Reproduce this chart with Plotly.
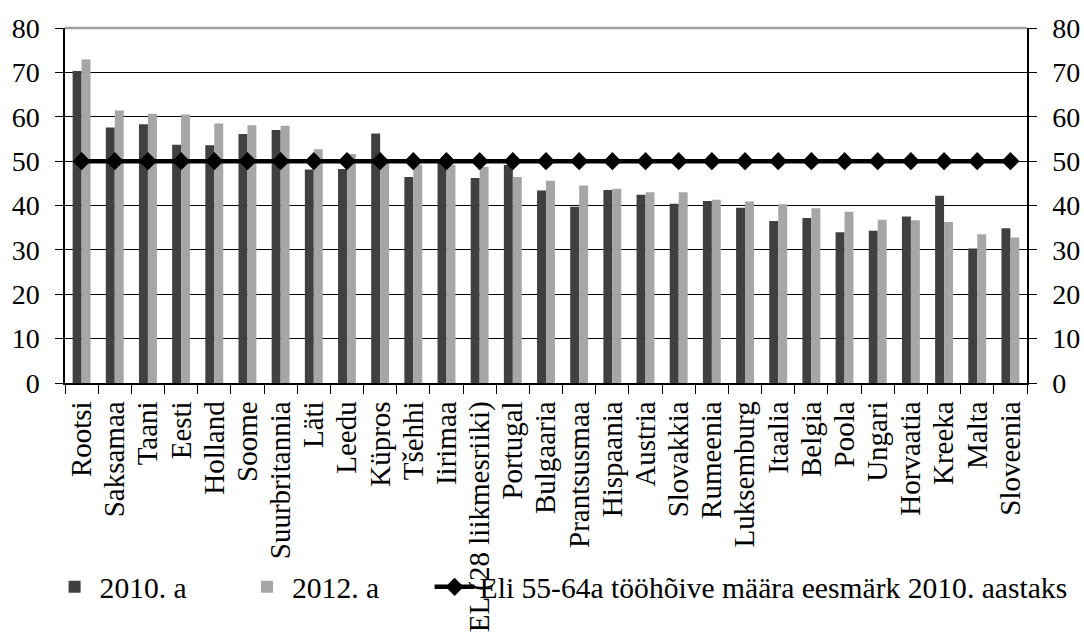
import plotly.graph_objects as go

# Employment rate of older workers (55-64) by EU country, %
countries = [
    "Rootsi", "Saksamaa", "Taani", "Eesti", "Holland", "Soome", "Suurbritannia",
    "Läti", "Leedu", "Küpros", "Tšehhi", "Iirimaa", "EL (28 liikmesriiki)",
    "Portugal", "Bulgaaria", "Prantsusmaa", "Hispaania", "Austria", "Slovakkia",
    "Rumeenia", "Luksemburg", "Itaalia", "Belgia", "Poola", "Ungari",
    "Horvaatia", "Kreeka", "Malta", "Sloveenia",
]
rate_2010 = [
    70.3, 57.6, 58.3, 53.7, 53.6, 56.1, 57.0,
    48.1, 48.2, 56.2, 46.4, 49.6, 46.2,
    49.1, 43.4, 39.7, 43.5, 42.4, 40.4,
    41.0, 39.5, 36.5, 37.2, 34.0, 34.3,
    37.5, 42.2, 30.3, 34.9,
]
rate_2012 = [
    72.9, 61.4, 60.7, 60.5, 58.5, 58.1, 58.0,
    52.7, 51.6, 49.6, 49.2, 49.2, 48.7,
    46.4, 45.6, 44.5, 43.8, 43.0, 43.0,
    41.3, 40.9, 40.3, 39.4, 38.6, 36.8,
    36.7, 36.3, 33.5, 32.8,
]
target_2010 = [
    50, 50, 50, 50, 50, 50, 50,
    50, 50, 50, 50, 50, 50,
    50, 50, 50, 50, 50, 50,
    50, 50, 50, 50, 50, 50,
    50, 50, 50, 50,
]
y_ticks = [0, 10, 20, 30, 40, 50, 60, 70, 80]

FONT = "Liberation Serif, Times New Roman, serif"

fig = go.Figure()
fig.add_trace(go.Bar(
    x=countries, y=rate_2010, name="2010. a", legend="legend",
    marker=dict(color="#404040", line=dict(width=0)),
))
fig.add_trace(go.Bar(
    x=countries, y=rate_2012, name="2012. a", legend="legend2",
    marker=dict(color="#a6a6a6", line=dict(width=0)),
))
fig.add_trace(go.Scatter(
    x=countries, y=target_2010, yaxis="y2", legend="legend3",
    name="Eli 55-64a tööhõive määra eesmärk 2010. aastaks",
    mode="lines+markers",
    line=dict(color="black", width=4.5),
    marker=dict(symbol="diamond", size=14, color="black"),
))

axis_font = dict(family=FONT, size=28, color="black")
legend_font = dict(family=FONT, size=29.6, color="black")


def legend_box(x):
    return dict(
        orientation="h", x=x, xanchor="left", y=-0.575, yanchor="middle",
        font=legend_font, itemwidth=40, bgcolor="rgba(0,0,0,0)",
    )


fig.update_layout(
    width=1084, height=633,
    margin=dict(l=65, r=57, t=28, b=250, autoexpand=False),
    paper_bgcolor="white", plot_bgcolor="white",
    font=dict(family=FONT, size=27, color="black"),
    barmode="group", bargap=0.46, bargroupgap=0,
    showlegend=True,
    legend=legend_box(-0.016),
    legend2=legend_box(0.184),
    legend3=legend_box(0.379),
    xaxis=dict(
        type="category", range=[-0.5, len(countries) - 0.5],
        tickmode="array", tickvals=countries, ticktext=countries,
        tickangle=-90, tickfont=dict(family=FONT, size=29),
        ticklabelstandoff=5,
        showline=True, linecolor="black", linewidth=1.5,
        ticks="outside", ticklen=9, tickcolor="black", tickson="boundaries",
        showgrid=False, automargin=False,
    ),
    yaxis=dict(
        range=[0, 80], tickvals=y_ticks, tickfont=axis_font,
        ticklabelstandoff=10,
        showline=True, linecolor="black", linewidth=1.5,
        ticks="outside", ticklen=8, tickcolor="black",
        showgrid=True, gridcolor="black", gridwidth=1,
        zeroline=False, automargin=False,
    ),
    yaxis2=dict(
        range=[0, 80], tickvals=y_ticks, tickfont=axis_font,
        ticklabelstandoff=10,
        overlaying="y", side="right",
        showline=True, linecolor="black", linewidth=1.5,
        ticks="outside", ticklen=8, tickcolor="black",
        showgrid=False, zeroline=False, automargin=False,
    ),
    shapes=[dict(
        type="line", xref="paper", yref="paper", x0=0, x1=1, y0=1, y1=1,
        line=dict(color="#a0a0a0", width=2.5), layer="above",
    )],
)

fig.write_html("out.html")
